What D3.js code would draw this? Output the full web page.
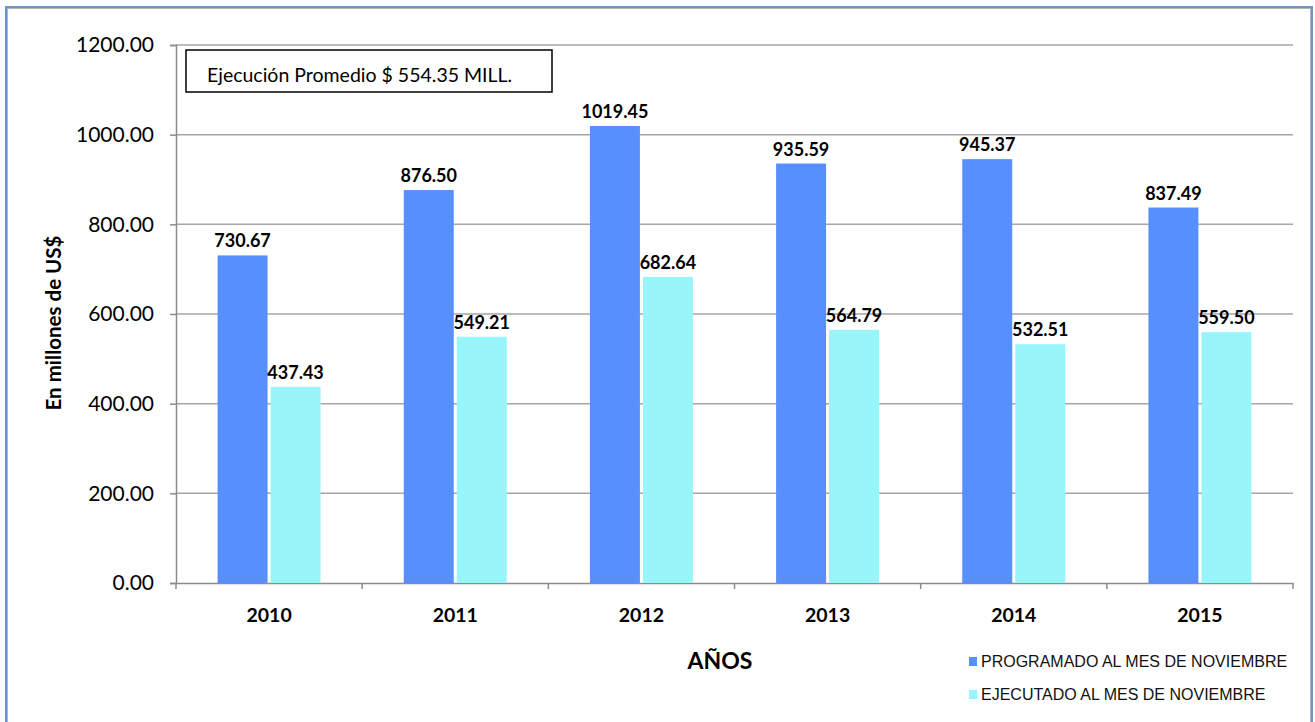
<!DOCTYPE html>
<html>
<head>
<meta charset="utf-8">
<script src="https://cdn.jsdelivr.net/npm/d3@7"></script>
<style>
  body { margin: 0; padding: 0; background: #fff; }
  svg { display: block; }
</style>
</head>
<body>
<div id="main"></div>
<script>
const years = ['2010', '2011', '2012', '2013', '2014', '2015'];
const programado = [730.67, 876.50, 1019.45, 935.59, 945.37, 837.49];
const ejecutado = [437.43, 549.21, 682.64, 564.79, 532.51, 559.50];
const seriesNames = ['PROGRAMADO AL MES DE NOVIEMBRE', 'EJECUTADO AL MES DE NOVIEMBRE'];
const yTicks = [0, 200, 400, 600, 800, 1000, 1200];
const noteText = 'Ejecución Promedio $ 554.35 MILL.';

const WIDTH = 1315, HEIGHT = 722;
const COLOURS = ['#5790fc', '#98f5fa'];
const FONT = 'Lato, "Open Sans", sans-serif';

const plot = {left: 176, right: 1293, top: 45, bottom: 583};

const svg = d3.select('#main').append('svg').attr('width', WIDTH).attr('height', HEIGHT);

// outer chart frame
svg.append('rect').attr('x', 6).attr('y', 7).attr('width', 1306).attr('height', 730)
    .attr('fill', 'none').attr('stroke', '#6f93c9').attr('stroke-width', 2);
svg.append('rect').attr('x', 7.5).attr('y', 8.5).attr('width', 1303).attr('height', 727)
    .attr('fill', 'none').attr('stroke', '#b5b5b5').attr('stroke-width', 1);

const x = d3.scaleBand().domain(years).range([plot.left, plot.right]);
const y = d3.scaleLinear().domain([0, 1200]).range([plot.bottom, plot.top]);
const BARW = 50, GAP = 3;

// gridlines
svg.append('g').selectAll('line').data(yTicks.filter((d) => d > 0)).enter().append('line')
    .attr('x1', plot.left).attr('x2', plot.right)
    .attr('y1', (d) => y(d)).attr('y2', (d) => y(d))
    .attr('stroke', '#a6a6a6').attr('stroke-width', 1.5);

// y axis
const axisY = d3.axisLeft(y).tickValues(yTicks).tickFormat(d3.format('.2f')).tickSize(6).tickPadding(16);
const gy = svg.append('g').attr('transform', `translate(${plot.left}, 0)`).call(axisY);
gy.select('.domain').attr('stroke', '#8c8c8c').attr('stroke-width', 1.5);
gy.selectAll('.tick line').attr('stroke', '#8c8c8c').attr('stroke-width', 1.5);
gy.selectAll('.tick text').attr('font-family', FONT).attr('font-size', 21).attr('fill', '#000');

// x axis
const axisX = d3.axisBottom(x).tickSize(0);
const gx = svg.append('g').attr('transform', `translate(0, ${plot.bottom})`).call(axisX);
gx.select('.domain').attr('stroke', '#8c8c8c').attr('stroke-width', 1.5);
gx.selectAll('.tick text').attr('y', 39).attr('dy', null)
    .attr('font-family', FONT).attr('font-size', 19.5).attr('font-weight', 'bold').attr('fill', '#000');
gx.selectAll('.sep').data(years.concat(['end'])).enter().append('line').attr('class', 'sep')
    .attr('x1', (d, i) => plot.left + i * x.step()).attr('x2', (d, i) => plot.left + i * x.step())
    .attr('y1', 0).attr('y2', 6).attr('stroke', '#8c8c8c').attr('stroke-width', 1.5);

// bars
const series = [programado, ejecutado];
series.forEach((vals, s) => {
    const cx = (d, i) => x(years[i]) + x.bandwidth() / 2 + (s === 0 ? -BARW - GAP / 2 : GAP / 2);
    svg.append('g').selectAll('rect').data(vals).enter().append('rect')
        .attr('x', cx).attr('width', BARW)
        .attr('y', (d) => y(d)).attr('height', (d) => y(0) - y(d))
        .attr('fill', COLOURS[s]);
    svg.append('g').selectAll('text').data(vals).enter().append('text')
        .attr('x', (d, i) => cx(d, i) + BARW / 2).attr('y', (d) => y(d) - 8)
        .attr('text-anchor', 'middle').attr('font-family', FONT).attr('font-size', 18).attr('font-weight', 'bold')
        .text((d) => d3.format('.2f')(d));
});

// note box
svg.append('rect').attr('x', 186).attr('y', 50).attr('width', 366).attr('height', 42)
    .attr('fill', '#fff').attr('stroke', '#000').attr('stroke-width', 1.5);
svg.append('text').attr('x', 207).attr('y', 82).attr('font-family', FONT).attr('font-size', 19.5).text(noteText);

// axis titles
svg.append('text').attr('transform', 'translate(61, 323) rotate(-90)').attr('text-anchor', 'middle')
    .attr('font-family', FONT).attr('font-size', 20.5).attr('font-weight', 'bold').text('En millones de US$');
svg.append('text').attr('x', 720).attr('y', 669).attr('text-anchor', 'middle')
    .attr('font-family', FONT).attr('font-size', 23).attr('font-weight', 'bold').text('AÑOS');

// legend
const legend = svg.append('g').selectAll('g').data(seriesNames).enter().append('g')
    .attr('transform', (d, i) => `translate(969, ${657 + i * 33})`);
legend.append('rect').attr('width', 8).attr('height', 9).attr('fill', (d, i) => COLOURS[i]);
legend.append('text').attr('x', 12).attr('y', 10).attr('font-family', '"Liberation Sans", Arial, sans-serif')
    .attr('font-size', 16).attr('fill', '#111').text((d) => d);
</script>
</body>
</html>
